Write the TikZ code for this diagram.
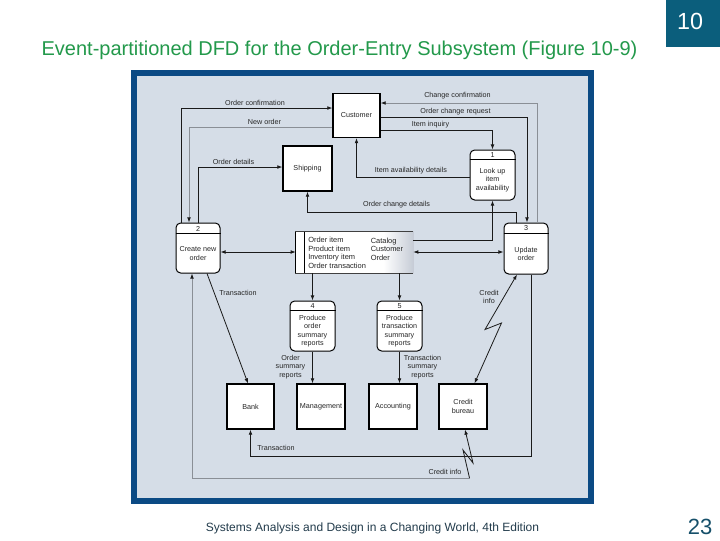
\documentclass[tikz,border=0pt]{standalone}
\usepackage{fontspec}
\setmainfont{Liberation Sans}
\usetikzlibrary{arrows.meta}
\newlength\pxu
\setlength\pxu{0.75pt}
\definecolor{framecol}{HTML}{0B4A84}
\definecolor{innercol}{HTML}{D5DDE7}
\definecolor{titlecol}{HTML}{23994B}
\definecolor{tealcol}{HTML}{0B5E7C}
\definecolor{footcol}{HTML}{233C4C}
\definecolor{numcol}{HTML}{16506A}
\definecolor{linecol}{HTML}{1A1A1A}
\definecolor{greycol}{HTML}{8A8F96}
\definecolor{fadecol}{RGB}{198,204,214}
\begin{document}
\begin{tikzpicture}[x=0.75pt,y=-0.75pt,
  lbl/.style={font=\fontsize{5.4}{6.3}\selectfont, text=black!85, inner sep=0pt, align=center},
  entity/.style={draw=black, line width=0.9pt, fill=white, inner sep=0pt, align=center,
    font=\fontsize{5.4}{6.5}\selectfont, text=black!85},
  proc/.style={draw=black, line width=0.75pt, fill=white, rounded corners=3.5pt, inner sep=0pt,
    minimum width=45\pxu, minimum height=50\pxu},
  hdr/.style={draw=black, line width=0.6pt},
  flow/.style={draw=linecol, line width=0.6pt, -{Latex[length=3.8pt,width=2.8pt]}},
  flowg/.style={draw=greycol, line width=0.6pt, -{Latex[length=3.8pt,width=2.8pt,color=linecol]}},
  flowb/.style={draw=linecol, line width=0.6pt, {Latex[length=3.8pt,width=2.8pt]}-{Latex[length=3.8pt,width=2.8pt]}},
]
\useasboundingbox (0,0) rectangle (720,540);
\fill[white] (0,0) rectangle (720,540);

% header and footer
\fill[tealcol] (666,0) rectangle (720,47);
\node[font=\fontsize{17.5}{20}\selectfont, text=white, anchor=base, inner sep=0pt] (chap) at (690,29) {10};
\node[font=\fontsize{15}{18}\selectfont, text=titlecol, anchor=base, inner sep=0pt] (title) at (339.5,55)
  {Event-partitioned DFD for the Order-Entry Subsystem (Figure 10-9)};
\node[font=\fontsize{9}{11}\selectfont, text=footcol, anchor=base, inner sep=0pt] (foot) at (372.5,531)
  {Systems Analysis and Design in a Changing World, 4th Edition};
\node[font=\fontsize{16.5}{19}\selectfont, text=numcol, anchor=base, inner sep=0pt] (page) at (700,534) {23};

% frame
\fill[framecol] (131,70) rectangle (594,504);
\fill[innercol] (137,76) rectangle (588,498);

% external entities
\node[entity, minimum width=47\pxu, minimum height=44\pxu] (cust) at (356.5,115.5) {Customer};
\node[entity, minimum width=49\pxu, minimum height=45\pxu] (ship) at (307.5,168.5) {Shipping};
\node[entity, minimum width=47\pxu, minimum height=45\pxu] (bank) at (250.5,406.5) {Bank};
\node[entity, minimum width=48\pxu, minimum height=45\pxu] (mgmt) at (321,406.5) {Management};
\node[entity, minimum width=48\pxu, minimum height=45\pxu] (acct) at (393,406.5) {Accounting};
\node[entity, minimum width=48\pxu, minimum height=45\pxu] (cred) at (463,406.5) {Credit\\bureau};

% processes
\node[proc] (p1) at (492.5,175) {};
\draw[hdr] ([yshift=-10\pxu]p1.north west) -- ([yshift=-10\pxu]p1.north east);
\node[lbl] (p1n) at (492.5,155) {1};
\node[lbl] (p1t) at (492.5,180) {Look up\\item\\availability};

\node[proc, minimum width=44\pxu] (p2) at (198,248) {};
\draw[hdr] ([yshift=-10.5\pxu]p2.north west) -- ([yshift=-10.5\pxu]p2.north east);
\node[lbl] (p2n) at (198,228.5) {2};
\node[lbl] (p2t) at (198,253.5) {Create new\\order};

\node[proc, minimum width=44\pxu, minimum height=51\pxu] (p3) at (526,248.5) {};
\draw[hdr] ([yshift=-10.5\pxu]p3.north west) -- ([yshift=-10.5\pxu]p3.north east);
\node[lbl] (p3n) at (526,228.5) {3};
\node[lbl] (p3t) at (526,254) {Update\\order};

\node[proc] (p4) at (312.5,326) {};
\draw[hdr] ([yshift=-10\pxu]p4.north west) -- ([yshift=-10\pxu]p4.north east);
\node[lbl] (p4n) at (312.5,306) {4};
\node[lbl] (p4t) at (312.5,331) {Produce\\order\\summary\\reports};

\node[proc] (p5) at (399.5,326) {};
\draw[hdr] ([yshift=-10\pxu]p5.north west) -- ([yshift=-10\pxu]p5.north east);
\node[lbl] (p5n) at (399.5,306) {5};
\node[lbl] (p5t) at (399.5,331) {Produce\\transaction\\summary\\reports};

% data store
\node[inner sep=0pt, minimum width=117\pxu, minimum height=41\pxu, fill=white] (ds) at (354.5,252.5) {};
\shade[left color=white, right color=fadecol] ([xshift=-30\pxu]ds.north east) rectangle (ds.south east);
\draw[line width=0.75pt, black!75] (ds.north east) -- (ds.north west) -- (ds.south west) -- (ds.south east);
\draw[line width=0.75pt] (ds.north west) -- (ds.south west);
\draw[line width=0.6pt] (ds.north west -| 304,0) -- (ds.south west -| 304,0);
\node[lbl, anchor=west, align=left, font=\fontsize{5.6}{6.4}\selectfont] (dsl) at (308,253)
  {Order item\\Product item\\Inventory item\\Order transaction};
\node[lbl, anchor=west, align=left, font=\fontsize{5.6}{6.4}\selectfont] (dsr) at (370.5,249)
  {Catalog\\Customer\\Order};

% flows between process 2 and customer / shipping
\draw[flow] (p2.north -| 181,0) |- (cust.west |- 0,108);
\node[lbl] (l1) at (255,103) {Order confirmation};
\draw[flowg] (cust.west |- 0,127) -| (p2.north -| 189,0);
\node[lbl] (l2) at (264.5,121.5) {New order};
\draw[flow] (p2.north -| 198,0) |- (ship.west |- 0,167);
\node[lbl] (l3) at (233.5,161.5) {Order details};

% flows at the customer's right
\draw[flowg] (p3.north -| 537,0) |- (cust.east |- 0,103);
\node[lbl] (l4) at (457.5,96) {Change confirmation};
\draw[flow] (cust.east |- 0,117) -| (p3.north -| 527,0);
\node[lbl] (l5) at (455.5,111.5) {Order change request};
\draw[flow] (cust.east |- 0,130) -| (p1.north);
\node[lbl] (l6) at (430.5,125) {Item inquiry};
\draw[flow] (p1.west |- 0,177) -| (cust.south);
\node[lbl] (l7) at (411,170.5) {Item availability details};

% order change details
\draw[flow] (p3.north -| 516,0) |- (ship.south |- 0,212) -- (ship.south);
\node[lbl] (l8) at (396.5,205) {Order change details};

% data store flows
\draw[flow] (ds.east |- 0,240) -| (p1.south);
\draw[flowb] (p2.east |- 0,252) -- (ds.west |- 0,252);
\draw[flowb] (ds.east |- 0,252) -- (p3.west |- 0,252);
\draw[flow] (ds.south -| p4.north) -- (p4.north);
\draw[flow] (ds.south -| p5.north) -- (p5.north);

% reports
\draw[flow] (p4.south) -- (mgmt.north -| p4.south);
\node[lbl] (l9) at (290.5,367) {Order\\summary\\reports};
\draw[flow] (p5.south) -- (acct.north -| p5.south);
\node[lbl] (l10) at (422.5,367) {Transaction\\summary\\reports};

% transactions to bank
\draw[flow] (p2.south -| 207,0) -- (bank.north -| 248,0);
\node[lbl] (l11) at (238,293) {Transaction};
\draw[flow] (p3.south -| 531,0) |- (bank.south |- 0,456) -- (bank.south);
\node[lbl] (l12) at (276,448) {Transaction};

% credit info (top)
\coordinate (za) at (485,329.5);
\coordinate (zb) at (501.5,323);
\draw[flowb] (p3.south -| 517,0) -- (za) -- (zb) -- (cred.north -| 474.5,0);
\node[lbl] (l13) at (489,297) {Credit\\info};

% credit info (bottom)
\coordinate (zc) at (473,463);
\coordinate (zd) at (463,450);
\coordinate (ze) at (469.5,478);
\draw[flow] (ze) -- (zd) -- (zc) -- (cred.south -| 465,0);
\draw[flowg] (ze) -- (ze -| 192,0) -- (p2.south -| 192,0);
\node[lbl] (l14) at (445,471.5) {Credit info};
\end{tikzpicture}
\end{document}
